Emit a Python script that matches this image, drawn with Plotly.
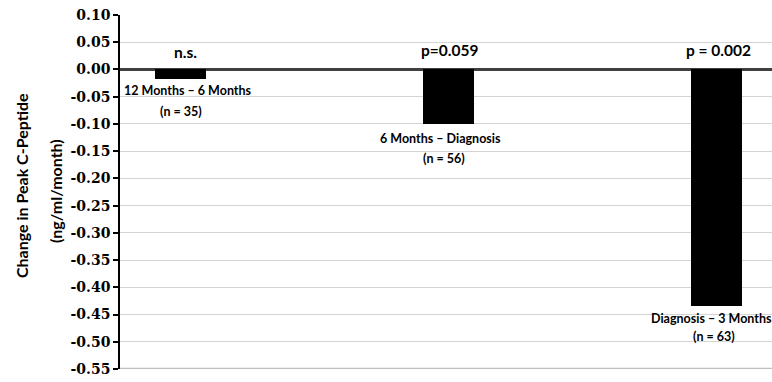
import plotly.graph_objects as go

# Rate of change in peak C-peptide for each interval
intervals = ["12 Months – 6 Months", "6 Months – Diagnosis", "Diagnosis – 3 Months"]
sample_sizes = ["(n = 35)", "(n = 56)", "(n = 63)"]
change_rate = [-0.017, -0.10, -0.435]
significance = ["n.s.", "p=0.059", "p = 0.002"]

# Y-axis ticks, labelled with a plain hyphen for negatives
tick_values = [0.10, 0.05, 0.00, -0.05, -0.10, -0.15, -0.20, -0.25, -0.30,
               -0.35, -0.40, -0.45, -0.50, -0.55]
tick_text = [f"{v:.2f}" if v >= 0 else f"-{abs(v):.2f}" for v in tick_values]

positions = list(range(len(intervals)))

label_font = dict(family="Lato", size=12.5, color="black", weight="bold")
sig_font = dict(family="Lato", size=15.5, color="black", weight="bold")

fig = go.Figure()
fig.add_trace(go.Bar(
    x=positions,
    y=change_rate,
    width=0.19,
    marker=dict(color="black", line=dict(width=0)),
    hoverinfo="skip",
    showlegend=False,
))

# Annotation placement: (dx, y) for significance, (dx, dy below bar) for labels
sig_pos = [(0.019, 0.032), (0.002, 0.035), (0.004, 0.035)]
name_pos = [(0.028, 0.021), (-0.03, 0.026), (-0.022, 0.023)]
n_pos = [(0.004, 0.061), (-0.015, 0.063), (-0.011, 0.056)]

annotations = []
for i, (name, n, val, sig) in enumerate(zip(intervals, sample_sizes, change_rate, significance)):
    annotations.append(dict(
        x=i + sig_pos[i][0], y=sig_pos[i][1], xref="x", yref="y",
        text=sig, showarrow=False, font=sig_font,
        xanchor="center", yanchor="middle"))
    annotations.append(dict(
        x=i + name_pos[i][0], y=val - name_pos[i][1], xref="x", yref="y",
        text=name, showarrow=False, font=label_font,
        xanchor="center", yanchor="middle"))
    annotations.append(dict(
        x=i + n_pos[i][0], y=val - n_pos[i][1], xref="x", yref="y",
        text=n, showarrow=False, font=label_font,
        xanchor="center", yanchor="middle"))

W, H = 772, 382
ML, MR, MT, MB = 120, 0, 15, 13
pw, ph = W - ML - MR, H - MT - MB

# Two-line rotated axis title, placed in pixels then converted to paper units
title_font = dict(family="Lato", size=16, color="black", weight="bold")
for text, px, py in [("Change in Peak C-Peptide", 21, 185), ("(ng/ml/month)", 55, 191)]:
    annotations.append(dict(
        x=(px - ML) / pw, y=1 - (py - MT) / ph, xref="paper", yref="paper",
        text=text, textangle=-90, showarrow=False, font=title_font,
        xanchor="center", yanchor="middle"))

fig.update_layout(
    width=W, height=H,
    margin=dict(l=ML, r=MR, t=MT, b=MB, pad=0),
    paper_bgcolor="white", plot_bgcolor="white",
    bargap=0,
    annotations=annotations,
    xaxis=dict(range=[-0.2235, 2.205], showticklabels=False, showgrid=False,
               zeroline=False, showline=False, ticks=""),
    yaxis=dict(range=[-0.55, 0.10], tickvals=tick_values,
               ticktext=tick_text,
               showgrid=True, gridcolor="#d4d4d4", gridwidth=1,
               zeroline=True, zerolinecolor="#404040", zerolinewidth=3,
               showline=True, linecolor="black", linewidth=1.5,
               ticks="outside", ticklen=5, tickcolor="black", tickwidth=1.5),
)
fig.update_yaxes(tickfont_family="DejaVu Serif", tickfont_size=14,
                 tickfont_weight="bold", tickfont_color="black")

# heavier baseline at the bottom of the value range
fig.add_shape(type="line", xref="paper", yref="y", x0=0, x1=1, y0=-0.55, y1=-0.55,
              line=dict(color="#c0c0c0", width=2.5), layer="below")

fig.write_html("out.html")
